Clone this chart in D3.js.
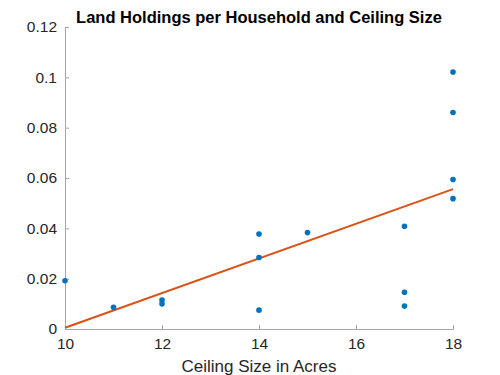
<!DOCTYPE html>
<html>
<head>
<meta charset="utf-8">
<script src="https://cdn.jsdelivr.net/npm/d3@7"></script>
<style>
  body { margin: 0; background: #fff; }
  svg text { font-family: "Liberation Sans", Arial, sans-serif; }
</style>
</head>
<body>
<div id="chart-area"></div>
<script>
// Data
var ceiling = [10, 11, 12, 12, 14, 14, 14, 15, 17, 17, 17, 18, 18, 18, 18];
var holdings = [0.0192, 0.0086, 0.0115, 0.0100, 0.0377, 0.0284, 0.0075, 0.0383,
                0.0408, 0.0146, 0.0091, 0.1021, 0.0860, 0.0594, 0.0518];
var fitX = [10, 18];
var fitY = [0.0005, 0.0556];
var xTicks = [10, 12, 14, 16, 18];
var yTicks = [0, 0.02, 0.04, 0.06, 0.08, 0.1, 0.12];

var margin = { left: 65, right: 47, top: 27, bottom: 46 },
    width = 500 - margin.left - margin.right,
    height = 375 - margin.top - margin.bottom;

var svg = d3.select("#chart-area")
    .append("svg")
    .attr("width", 500)
    .attr("height", 375);
var g = svg.append("g")
    .attr("transform", "translate(" + margin.left + "," + margin.top + ")");

// Scales
var x = d3.scaleLinear().domain([10, 18]).range([0, width]);
var y = d3.scaleLinear().domain([0, 0.12]).range([height, 0]);

// Axes (MATLAB style, ticks inward)
var xAxis = g.append("g")
    .attr("transform", "translate(0," + height + ")")
    .call(d3.axisBottom(x).tickValues(xTicks).tickSize(-4).tickPadding(9)
        .tickFormat(d3.format("d")));
var yAxis = g.append("g")
    .call(d3.axisLeft(y).tickValues(yTicks).tickSize(-4).tickPadding(8)
        .tickFormat(function(d){ return d === 0 ? "0" : String(+d.toFixed(2)); }));

[xAxis, yAxis].forEach(function(a){
    a.select(".domain").attr("stroke", "#a6a6a6");
    a.selectAll(".tick line").attr("stroke", "#a6a6a6");
    a.selectAll(".tick text")
        .attr("fill", "#262626")
        .attr("font-size", "15.5px");
});

// Fit line
var pts = fitX.map(function(v, i){ return [v, fitY[i]]; });
g.append("path")
    .attr("fill", "none")
    .attr("stroke", "#D95319")
    .attr("stroke-width", 2)
    .attr("d", d3.line()
        .x(function(d){ return x(d[0]); })
        .y(function(d){ return y(d[1]); })(pts));

// Points
g.selectAll("circle")
    .data(ceiling)
    .enter().append("circle")
    .attr("cx", function(d){ return x(d); })
    .attr("cy", function(d, i){ return y(holdings[i]); })
    .attr("r", 2.8)
    .attr("fill", "#0072BD");

// Labels
g.append("text")
    .attr("x", width / 2)
    .attr("y", -4)
    .attr("text-anchor", "middle")
    .attr("font-size", "16.5px")
    .attr("font-weight", "bold")
    .attr("fill", "#000")
    .text("Land Holdings per Household and Ceiling Size");

g.append("text")
    .attr("x", width / 2)
    .attr("y", height + 43)
    .attr("text-anchor", "middle")
    .attr("font-size", "17px")
    .attr("fill", "#262626")
    .text("Ceiling Size in Acres");
</script>
</body>
</html>
